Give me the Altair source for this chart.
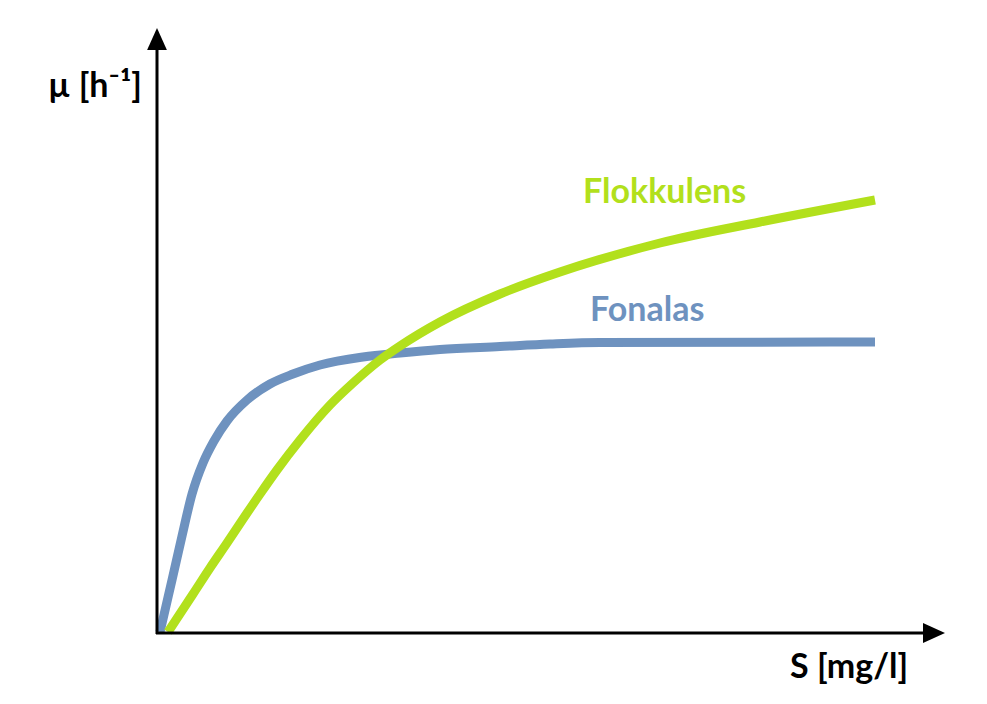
import altair as alt
import pandas as pd

# Substrate concentration S [mg/l] and growth rate mu [1/h]
fonalas_s = [0.0, 0.084, 0.168, 0.308, 0.448, 0.601, 0.755, 0.937, 1.217, 1.538, 1.86, 2.238, 2.839, 3.357, 3.916, 4.755, 5.455, 6.154, 10.0]
fonalas_mu = [0.0, 0.052, 0.104, 0.192, 0.276, 0.338, 0.382, 0.422, 0.464, 0.496, 0.516, 0.534, 0.55, 0.558, 0.565, 0.571, 0.576, 0.579, 0.58]

flokk_s = [0.112, 0.462, 0.699, 0.937, 1.161, 1.399, 1.636, 1.958, 2.378, 2.699, 3.077, 3.357, 3.916, 4.755, 5.594, 6.993, 8.392, 10.0]
flokk_mu = [0.0, 0.076, 0.128, 0.178, 0.226, 0.276, 0.324, 0.384, 0.454, 0.498, 0.544, 0.572, 0.62, 0.676, 0.72, 0.778, 0.82, 0.864]

series_names = ["Fonalas", "Flokkulens"]
series_colors = ["#6E92BF", "#B2E01C"]

x_title = "S [mg/l]"
y_title = "µ [h⁻¹]"

rows = []
for i, (s, m) in enumerate(zip(fonalas_s, fonalas_mu)):
    rows.append({"S": s, "mu": m, "series": "Fonalas", "order": i})
for i, (s, m) in enumerate(zip(flokk_s, flokk_mu)):
    rows.append({"S": s, "mu": m, "series": "Flokkulens", "order": i})
df = pd.DataFrame(rows)

xscale = alt.Scale(domain=[0, 10], range=[152, 867])
yscale = alt.Scale(domain=[0, 1], range=[624, 124])

FONT = "Lato"

lines = alt.Chart(df).mark_line(
    strokeWidth=9, strokeCap="butt", strokeJoin="round", interpolate="monotone"
).encode(
    x=alt.X("S:Q", scale=xscale, axis=None),
    y=alt.Y("mu:Q", scale=yscale, axis=None),
    color=alt.Color("series:N", scale=alt.Scale(domain=series_names, range=series_colors), legend=None),
    order="order:Q",
    detail="series:N",
)

dummy = pd.DataFrame({"a": [0]})

y_axis_line = alt.Chart(dummy).mark_rule(color="black", strokeWidth=3).encode(
    x=alt.value(149), y=alt.value(626), y2=alt.value(38)
)
x_axis_line = alt.Chart(dummy).mark_rule(color="black", strokeWidth=3).encode(
    x=alt.value(148), x2=alt.value(922), y=alt.value(625)
)
y_arrow = alt.Chart(dummy).mark_point(
    shape="M0,-1L-0.9,1L0.9,1Z", filled=True, color="black", opacity=1, size=484, strokeWidth=0
).encode(x=alt.value(149), y=alt.value(31))
x_arrow = alt.Chart(dummy).mark_point(
    shape="M1,0L-1,-0.9L-1,0.9Z", filled=True, color="black", opacity=1, size=484, strokeWidth=0
).encode(x=alt.value(926), y=alt.value(625))

def label(text, x, y, color, size=34):
    return alt.Chart(pd.DataFrame({"t": [text]})).mark_text(
        font=FONT, fontWeight="bold", fontSize=size, align="left", baseline="alphabetic", color=color
    ).encode(text="t:N", x=alt.value(x), y=alt.value(y))

lab_flokk = label(series_names[1], 575, 195, series_colors[1])
lab_fon = label(series_names[0], 582, 313, series_colors[0])
lab_y = label(y_title, 40, 89, "black")
lab_x = label(x_title, 782, 670, "black")

chart = alt.layer(
    lines, y_axis_line, x_axis_line, y_arrow, x_arrow, lab_flokk, lab_fon, lab_y, lab_x
).properties(
    width=971, height=684, padding=0, autosize="none", background="white"
).configure_view(stroke=None)

chart.save("out.html", embed_options={"renderer": "svg", "actions": False})
